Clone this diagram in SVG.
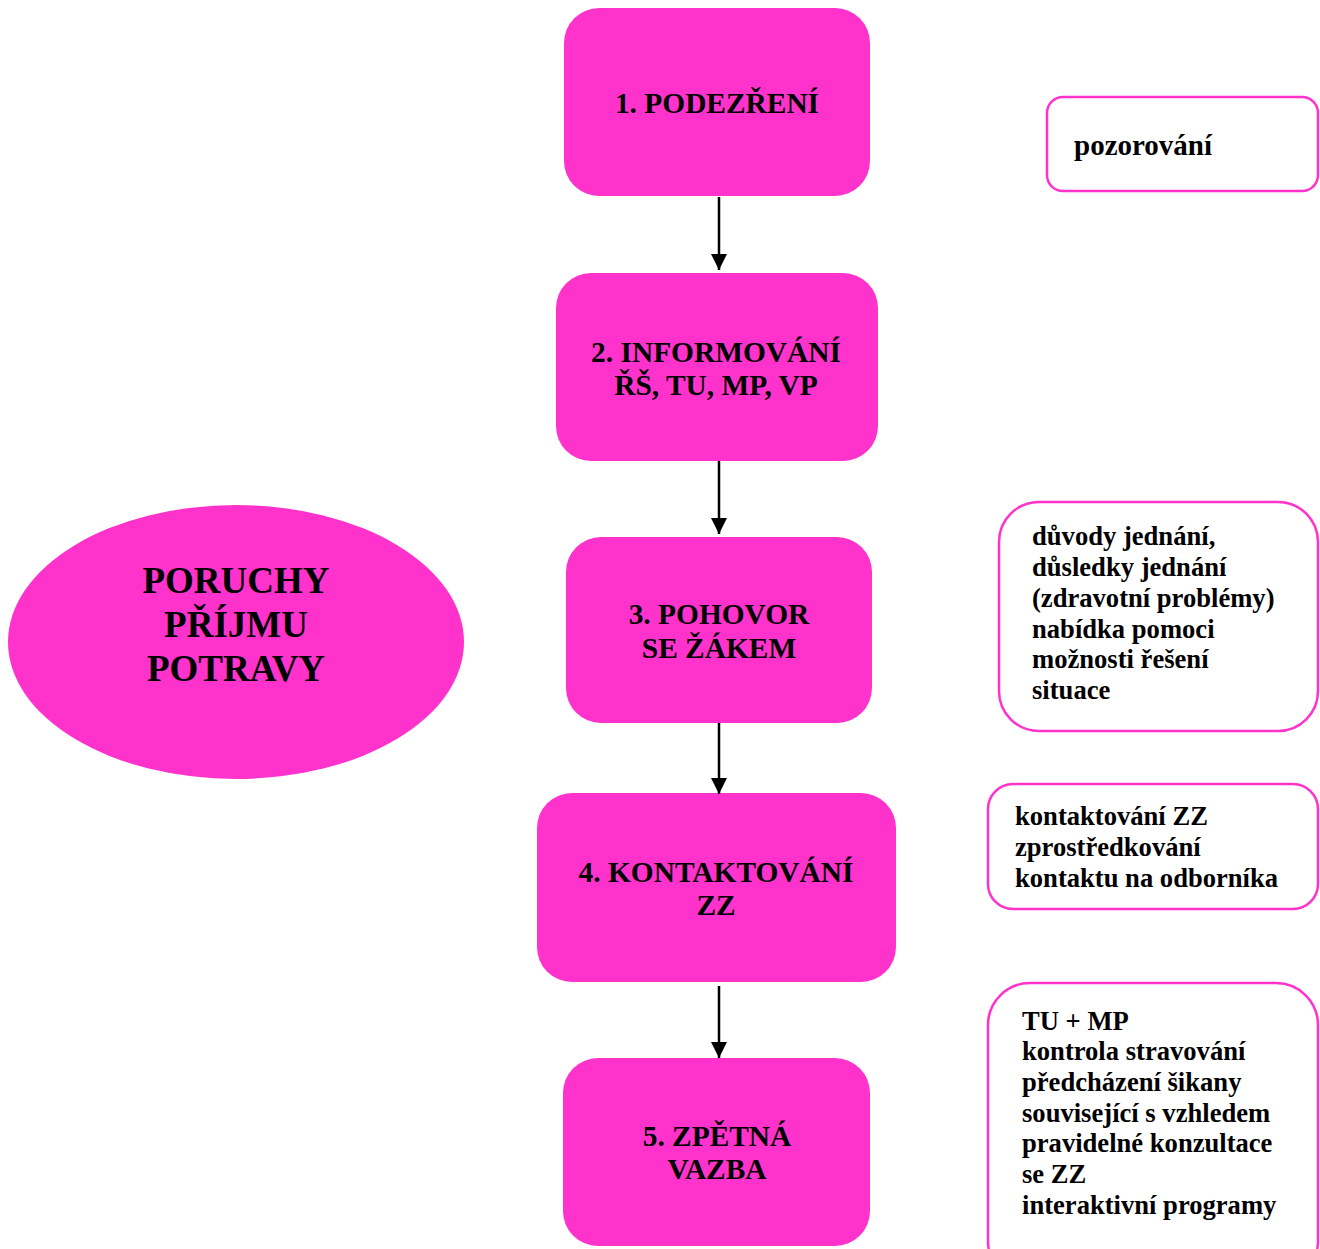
<svg xmlns="http://www.w3.org/2000/svg" width="1320" height="1249" viewBox="0 0 1320 1249">
<style>
.step{fill:#ff33cc;}
.note{fill:#ffffff;stroke:#ff33cc;stroke-width:2.5;}
text{font-family:"Liberation Serif","Times New Roman",serif;font-weight:bold;fill:#000;}
.st{font-size:29.4px;text-anchor:middle;}
.nt{font-size:26.6px;}
.big{font-size:37px;text-anchor:middle;}
.conn line{stroke:#000;stroke-width:2.5;}
</style>
<defs>
<marker id="arrow" viewBox="0 0 16 16" refX="16" refY="8" markerWidth="16" markerHeight="16" markerUnits="userSpaceOnUse" orient="auto">
<path d="M0,0 L16,8 L0,16 z" fill="#000"/>
</marker>
</defs>
<rect width="1320" height="1249" fill="#fff"/>
<g id="main">
<ellipse class="step" cx="236" cy="642" rx="228" ry="137"/>
<text class="big" x="236" y="593">PORUCHY</text>
<text class="big" x="236" y="637">PŘÍJMU</text>
<text class="big" x="236" y="681">POTRAVY</text>
</g>
<g id="step1">
<rect class="step" x="564" y="8" width="306" height="188" rx="35"/>
<text class="st" x="717" y="113">1. PODEZŘENÍ</text>
</g>
<g id="step2">
<rect class="step" x="556" y="273" width="322" height="188" rx="35"/>
<text class="st" x="716" y="362">2. INFORMOVÁNÍ</text>
<text class="st" x="716" y="395">ŘŠ, TU, MP, VP</text>
</g>
<g id="step3">
<rect class="step" x="566" y="537" width="306" height="186" rx="35"/>
<text class="st" x="719" y="624">3. POHOVOR</text>
<text class="st" x="719" y="658">SE ŽÁKEM</text>
</g>
<g id="step4">
<rect class="step" x="537" y="793" width="359" height="189" rx="35"/>
<text class="st" x="716" y="882">4. KONTAKTOVÁNÍ</text>
<text class="st" x="716" y="915">ZZ</text>
</g>
<g id="step5">
<rect class="step" x="563" y="1058" width="307" height="188" rx="35"/>
<text class="st" x="717" y="1146">5. ZPĚTNÁ</text>
<text class="st" x="717" y="1179">VAZBA</text>
</g>
<g id="note1">
<rect class="note" x="1047" y="97" width="271" height="94" rx="16"/>
<text class="nt" x="1074" y="155" style="font-size:29px">pozorování</text>
</g>
<g id="note3">
<rect class="note" x="999" y="502" width="319" height="229" rx="40"/>
<text class="nt" x="1032" y="545">důvody jednání,</text>
<text class="nt" x="1032" y="576">důsledky jednání</text>
<text class="nt" x="1032" y="607">(zdravotní problémy)</text>
<text class="nt" x="1032" y="638">nabídka pomoci</text>
<text class="nt" x="1032" y="668">možnosti řešení</text>
<text class="nt" x="1032" y="699">situace</text>
</g>
<g id="note4">
<rect class="note" x="988" y="784" width="330" height="125" rx="25"/>
<text class="nt" x="1015" y="825">kontaktování ZZ</text>
<text class="nt" x="1015" y="856">zprostředkování</text>
<text class="nt" x="1015" y="887">kontaktu na odborníka</text>
</g>
<g id="note5">
<rect class="note" x="988" y="983" width="330" height="300" rx="42"/>
<text class="nt" x="1022" y="1030">TU + MP</text>
<text class="nt" x="1022" y="1060">kontrola stravování</text>
<text class="nt" x="1022" y="1091">předcházení šikany</text>
<text class="nt" x="1022" y="1122">související s vzhledem</text>
<text class="nt" x="1022" y="1152">pravidelné konzultace</text>
<text class="nt" x="1022" y="1183">se ZZ</text>
<text class="nt" x="1022" y="1214">interaktivní programy</text>
</g>
<g id="connectors" class="conn">
<line x1="719" y1="197" x2="719" y2="270" marker-end="url(#arrow)"/>
<line x1="719" y1="461" x2="719" y2="534" marker-end="url(#arrow)"/>
<line x1="719" y1="723" x2="719" y2="794" marker-end="url(#arrow)"/>
<line x1="719" y1="986" x2="719" y2="1058" marker-end="url(#arrow)"/>
</g>
</svg>
